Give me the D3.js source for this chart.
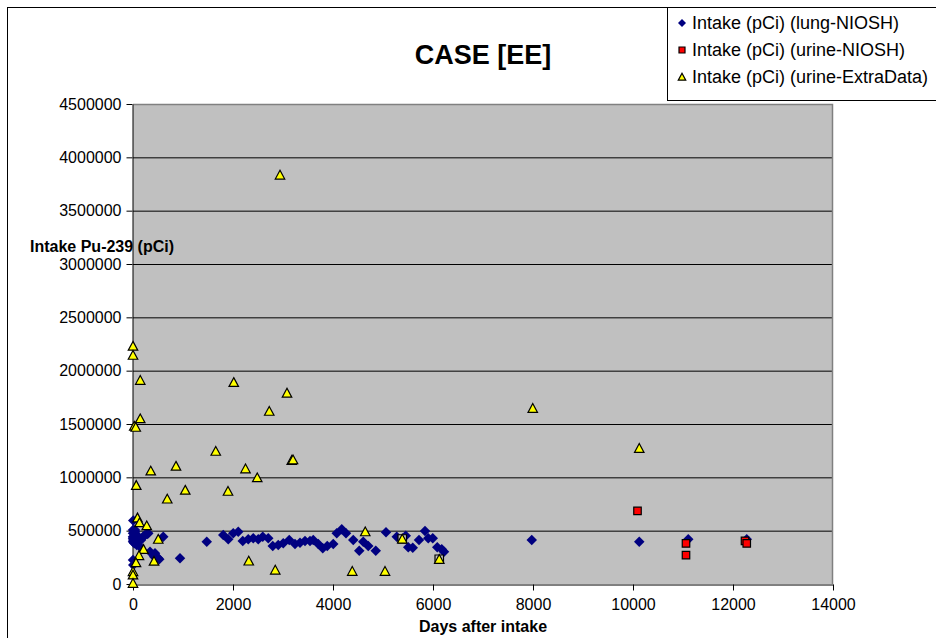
<!DOCTYPE html>
<html>
<head>
<meta charset="utf-8">
<script src="https://cdn.jsdelivr.net/npm/d3@7"></script>
<style>
  html, body { margin: 0; padding: 0; background: #fff; }
  svg { display: block; font-family: Arial, "Liberation Sans", sans-serif; }
</style>
</head>
<body>
<svg id="chart" width="936" height="638"></svg>
<script>
// Intake estimates (pCi) against days after intake
const lungDays = [5, 0, 40, 0, 40, 0, 75, 0, 5, 105, 0, 25, 75, 140, 160, 205, 240, 285, 305,
  340, 440, 505, 425, 525, 0, 5, 605, 940, 1475,
  1805, 1905, 2005, 2105, 2195, 2305, 2405, 2505, 2595, 2705, 2795, 2905, 3005, 3125,
  3240, 3340, 3440, 3540, 3605, 3705, 3795, 3885, 4005, 4075, 4175, 4260, 4405, 4525,
  4605, 4705, 4855, 5060, 5275, 5455, 5505, 5595, 5720, 5840, 5905, 5995, 6085, 6175, 6220,
  7975, 10125, 11105, 12275];
const lungIntake = [595000, 506000, 506000, 475000, 490000, 443000, 460000, 428000, 412000, 428000,
  397000, 382000, 366000, 350000, 412000, 443000, 460000, 469000, 475000,
  303000, 288000, 241000, 256000, 231000, 225000, 178000, 443000, 241000, 397000,
  460000, 419000, 475000, 490000, 403000, 419000, 428000, 419000, 443000, 428000, 356000,
  366000, 382000, 412000, 375000, 387000, 403000, 403000, 412000, 375000, 335000, 356000,
  375000, 475000, 513000, 475000, 412000, 312000, 397000, 356000, 312000, 485000, 443000,
  453000, 344000, 340000, 412000, 497000, 428000, 428000, 344000, 325000, 303000,
  412000, 397000, 419000, 419000];

const urineDays = [10090, 11060, 11060, 12240, 12275];
const urineIntake = [685000, 380000, 270000, 405000, 380000];

const extraDays = [0, 0, 145, 2015, 3080, 145, 25, 55, 2725, 1655, 355, 860, 2250, 2485, 3175, 3200,
  65, 1045, 1900, 685, 90, 130, 275, 505, 210, 120, 60, 420, 0, 0, 0, 2315, 2845, 4385,
  5040, 4645, 5385, 6125, 7995, 10125, 2940];
const extraIntake = [2230000, 2145000, 1910000, 1890000, 1790000, 1550000, 1480000, 1470000, 1620000,
  1245000, 1060000, 1105000, 1080000, 997000, 1160000, 1165000, 925000, 880000, 870000,
  797000, 620000, 575000, 547000, 420000, 325000, 267000, 200000, 214000, 117000, 85000,
  7000, 216000, 131000, 119000, 119000, 490000, 422000, 232000, 1647000, 1272000, 3834000];
// ExtraData points that carry an extra square frame
const framedExtra = [36, 37];

const xTicks = [0, 2000, 4000, 6000, 8000, 10000, 12000, 14000];
const yTicks = [0, 500000, 1000000, 1500000, 2000000, 2500000, 3000000, 3500000, 4000000, 4500000];

const seriesNames = ["Intake (pCi) (lung-NIOSH)", "Intake (pCi) (urine-NIOSH)", "Intake (pCi) (urine-ExtraData)"];
const titleText = "CASE [EE]";
const xTitle = "Days after intake";
const yTitle = "Intake Pu-239 (pCi)";

const svg = d3.select("#chart");
const plot = { left: 133, right: 833, top: 104, bottom: 584 };

const x = d3.scaleLinear().domain([0, 14000]).range([plot.left, plot.right]);
const y = d3.scaleLinear().domain([0, 4500000]).range([plot.bottom, plot.top]);

// outer chart frame
svg.append("rect").attr("x", 7.5).attr("y", 7.5).attr("width", 960).attr("height", 660)
  .attr("fill", "#fff").attr("stroke", "#000").attr("stroke-width", 1);

// plot area background
svg.append("rect").attr("x", plot.left).attr("y", plot.top)
  .attr("width", plot.right - plot.left).attr("height", plot.bottom - plot.top)
  .attr("fill", "#c0c0c0");

// horizontal grid
const grid = svg.append("g").attr("transform", `translate(${plot.left},0)`)
  .call(d3.axisLeft(y).tickValues(yTicks.slice(1, -1)).tickSize(-(plot.right - plot.left)).tickFormat(""));
grid.select(".domain").remove();
grid.selectAll("line").attr("stroke", "#000").attr("stroke-width", 1);

// plot border top and right
svg.append("path")
  .attr("d", `M${plot.left},${plot.top + 0.5}H${plot.right - 0.5}V${plot.bottom}`)
  .attr("fill", "none").attr("stroke", "#808080").attr("stroke-width", 1.5);

// y axis
const yAxis = svg.append("g").attr("transform", `translate(${plot.left - 0.5},0)`)
  .call(d3.axisLeft(y).tickValues(yTicks).tickSize(6).tickSizeOuter(0).tickPadding(5).tickFormat(d3.format("d")));
yAxis.select(".domain").attr("stroke", "#000");
yAxis.selectAll("line").attr("stroke", "#000");
yAxis.selectAll("text").attr("font-size", 16).attr("fill", "#000")
  .attr("font-family", "Arial, 'Liberation Sans', sans-serif");

// x axis
const xAxis = svg.append("g").attr("transform", `translate(0,${plot.bottom + 0.5})`)
  .call(d3.axisBottom(x).tickValues(xTicks).tickSize(6).tickSizeOuter(0).tickPadding(8).tickFormat(d3.format("d")));
xAxis.select(".domain").attr("stroke", "#000");
xAxis.selectAll("line").attr("stroke", "#000");
xAxis.selectAll("text").attr("font-size", 16).attr("fill", "#000")
  .attr("font-family", "Arial, 'Liberation Sans', sans-serif");

// marker shapes
const diamond = { draw(ctx, size) { const r = Math.sqrt(size) / 2; ctx.moveTo(0, -r); ctx.lineTo(r, 0); ctx.lineTo(0, r); ctx.lineTo(-r, 0); ctx.closePath(); } };
const square = { draw(ctx, size) { const r = Math.sqrt(size) / 2; ctx.rect(-r, -r, 2 * r, 2 * r); } };
const triangle = { draw(ctx, size) { const r = Math.sqrt(size) / 2; ctx.moveTo(0, -r); ctx.lineTo(r, r * 0.85); ctx.lineTo(-r, r * 0.85); ctx.closePath(); } };

const marks = svg.append("g");

// lung-NIOSH
marks.append("g").selectAll("path").data(lungDays.map((d, i) => [d, lungIntake[i]])).join("path")
  .attr("transform", d => `translate(${x(d[0])},${y(d[1])})`)
  .attr("d", d3.symbol(diamond, 110))
  .attr("fill", "#000080");

// urine-NIOSH
marks.append("g").selectAll("path").data(urineDays.map((d, i) => [d, urineIntake[i]])).join("path")
  .attr("transform", d => `translate(${x(d[0])},${y(d[1])})`)
  .attr("d", d3.symbol(square, 56))
  .attr("fill", "#ff0000").attr("stroke", "#000").attr("stroke-width", 1.2);

// urine-ExtraData frames
marks.append("g").selectAll("path").data(framedExtra.map(i => [extraDays[i], extraIntake[i]])).join("path")
  .attr("transform", d => `translate(${x(d[0])},${y(d[1])})`)
  .attr("d", d3.symbol(square, 72))
  .attr("fill", "#c0c0c0").attr("stroke", "#000").attr("stroke-width", 1.2);

// urine-ExtraData
marks.append("g").selectAll("path").data(extraDays.map((d, i) => [d, extraIntake[i]])).join("path")
  .attr("transform", d => `translate(${x(d[0])},${y(d[1])})`)
  .attr("d", d3.symbol(triangle, 90))
  .attr("fill", "#ffff00").attr("stroke", "#000").attr("stroke-width", 1.2).attr("stroke-linejoin", "miter");

// titles
svg.append("text").attr("x", 483).attr("y", 64).attr("text-anchor", "middle")
  .attr("font-size", 27).attr("font-weight", "bold").text(titleText);
svg.append("text").attr("x", 483).attr("y", 632).attr("text-anchor", "middle")
  .attr("font-size", 16).attr("font-weight", "bold").text(xTitle);
svg.append("text").attr("x", 30).attr("y", 252).attr("text-anchor", "start")
  .attr("font-size", 16).attr("font-weight", "bold").text(yTitle);

// legend
const legend = svg.append("g");
legend.append("rect").attr("x", 667.5).attr("y", 7.5).attr("width", 300).attr("height", 93)
  .attr("fill", "#fff").attr("stroke", "#000").attr("stroke-width", 1);
const legendShapes = [
  { type: diamond, size: 64, fill: "#000080", stroke: "none" },
  { type: square, size: 36, fill: "#ff0000", stroke: "#000" },
  { type: triangle, size: 56, fill: "#ffff00", stroke: "#000" }
];
const rows = legend.selectAll("g.row").data(seriesNames).join("g")
  .attr("class", "row")
  .attr("transform", (d, i) => `translate(0,${23 + i * 27})`);
rows.append("path")
  .attr("transform", "translate(682,0)")
  .attr("d", (d, i) => d3.symbol(legendShapes[i].type, legendShapes[i].size)())
  .attr("fill", (d, i) => legendShapes[i].fill)
  .attr("stroke", (d, i) => legendShapes[i].stroke).attr("stroke-width", 1.2);
rows.append("text").attr("x", 692).attr("y", 0).attr("dy", "0.36em")
  .attr("font-size", 18).text(d => d);
</script>
</body>
</html>
